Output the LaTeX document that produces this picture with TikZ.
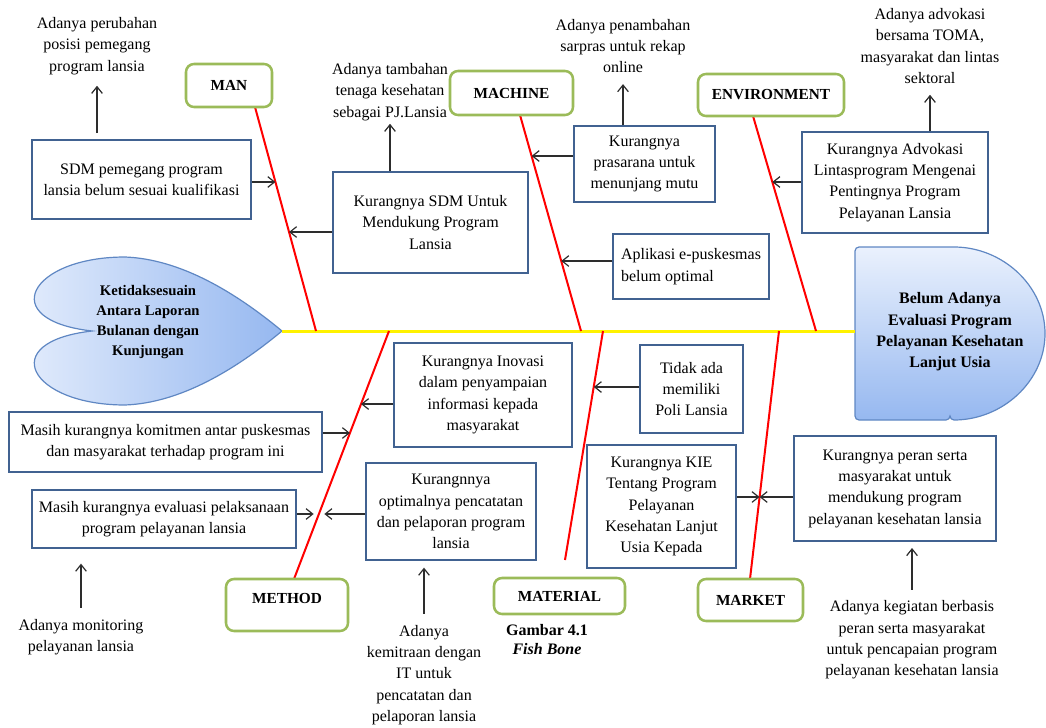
\documentclass[tikz,border=0pt]{standalone}
\usepackage{fontspec}
\setmainfont{Liberation Serif}
\usetikzlibrary{arrows.meta}

\definecolor{boxBlue}{RGB}{65,98,145}
\definecolor{catGreen}{RGB}{155,187,89}
\definecolor{headLine}{RGB}{95,135,195}
\definecolor{headLight}{RGB}{234,241,253}
\definecolor{headDark}{RGB}{150,184,240}
\definecolor{arrowGray}{RGB}{45,45,45}

\tikzset{every picture/.style={line width=0.75pt}}
\tikzset{
  effect/.style={draw=boxBlue, line width=1.5pt, fill=white, align=center, inner sep=0.75pt, font=\fontsize{12}{16}\selectfont},
  category/.style={draw=catGreen, line width=1.9pt, rounded corners=6pt, fill=white, inner sep=0.75pt, font=\fontsize{11.5}{14}\selectfont\bfseries},
  note/.style={align=center, inner sep=8pt, font=\fontsize{12}{16}\selectfont},
  headtext/.style={align=center, inner sep=0.75pt, font=\fontsize{12}{16}\selectfont\bfseries},
  bone/.style={draw=red, line width=1.5pt},
  spine/.style={draw=yellow, line width=2.25pt},
  arr/.style={draw=arrowGray, line width=0.9pt, -{Straight Barb[length=5pt,width=8pt]}},
}

\begin{document}
\begin{tikzpicture}[x=0.75pt,y=0.75pt,yscale=-1,xscale=1]
\useasboundingbox (0,0) rectangle (1046,728);

%Shape: Heart [tail of the fish]
\shadedraw [left color=headLight, right color=headDark, draw=headLine, line width=0.9pt] (282,331) .. controls (235,292) and (180,259) .. (125,257) .. controls (30,257) and (-5,320) .. (92,331) .. controls (-5,342) and (30,405) .. (125,405) .. controls (180,403) and (235,370) .. (282,331) -- cycle ;
%Shape: Half Ellipse [head of the fish]
\shadedraw [top color=headLight, bottom color=headDark, draw=headLine, line width=0.9pt, rounded corners=3pt] (950,420) -- (855,420) -- (855,247) -- (950,247) arc [start angle=-90, end angle=90, x radius=95, y radius=86.5] -- cycle ;

%Straight Lines [spine]
\coordinate (tail) at (282,331);
\coordinate (head) at (855,331);
\draw [spine] (tail) -- (head) ;

%Straight Lines [bones]
\coordinate (manTop) at (255,107);
\coordinate (manEnd) at (316,331);
\coordinate (macTop) at (520,115);
\coordinate (macEnd) at (581,331);
\coordinate (envTop) at (753,116);
\coordinate (envEnd) at (816,331);
\coordinate (metBot) at (294,579);
\coordinate (metEnd) at (389,331);
\coordinate (matBot) at (565,560);
\coordinate (matEnd) at (603,331);
\coordinate (marBot) at (750,579);
\coordinate (marEnd) at (779,331);
\draw [bone] (manTop) -- (manEnd) ;
\draw [bone] (macTop) -- (macEnd) ;
\draw [bone] (envTop) -- (envEnd) ;
\draw [bone] (metBot) -- (metEnd) ;
\draw [bone] (matBot) -- (matEnd) ;
\draw [bone] (marBot) -- (marEnd) ;

%Shape: Rounded Rect [categories]
\draw (229,85.5) node [category, minimum width=64.5pt, minimum height=32.25pt] (man) {MAN};
\draw (511.5,93) node [category, minimum width=92.25pt, minimum height=33pt] (machine) {MACHINE};
\draw (771,95) node [category, minimum width=109.5pt, minimum height=31.5pt] (environment) {ENVIRONMENT};
\draw (287,605) node [category, minimum width=91.5pt, minimum height=39pt, text depth=10pt] (method) {METHOD};
\draw (559.5,596) node [category, minimum width=98.25pt, minimum height=27pt] (material) {MATERIAL};
\draw (750.5,600) node [category, minimum width=78.75pt, minimum height=31.5pt] (market) {MARKET};

%Shape: Rectangle [causes]
\draw (141.5,179.5) node [effect, minimum width=164.25pt, minimum height=59.25pt] (sdm) {SDM pemegang program\\lansia belum sesuai kualifikasi};
\draw (430.5,222.5) node [effect, minimum width=146.25pt, minimum height=75.75pt] (sdmKurang) {Kurangnya SDM Untuk\\Mendukung Program\\Lansia};
\draw (644.5,164) node [effect, minimum width=105.75pt, minimum height=57pt] (prasarana) {Kurangnya\\prasarana untuk\\menunjang mutu};
\draw (691,266.5) node [effect, align=left, minimum width=117pt, minimum height=48.75pt] (aplikasi) {Aplikasi e-puskesmas\\belum optimal};
\draw (895,182.5) node [effect, minimum width=139.5pt, minimum height=75.75pt] (advokasi) {Kurangnya Advokasi\\Lintasprogram Mengenai\\Pentingnya Program\\Pelayanan Lansia};
\draw (483,395) node [effect, minimum width=133.5pt, minimum height=78pt] (inovasi) {Kurangnya Inovasi\\dalam penyampaian\\informasi kepada\\masyarakat};
\draw (691.5,389) node [effect, minimum width=77.25pt, minimum height=66pt] (poli) {Tidak ada\\memiliki\\Poli Lansia};
\draw (165.5,442) node [effect, minimum width=234.75pt, minimum height=45pt] (komitmen) {Masih kurangnya komitmen antar puskesmas\\dan masyarakat terhadap program ini};
\draw (164,519) node [effect, minimum width=198pt, minimum height=43.5pt] (evaluasi) {Masih kurangnya evaluasi pelaksanaan\\program pelayanan lansia};
\draw (451,511.5) node [effect, minimum width=127.5pt, minimum height=72.75pt] (pencatatan) {Kurangnnya\\optimalnya pencatatan\\dan pelaporan program\\lansia};
\draw (661.5,506.5) node [effect, minimum width=111.75pt, minimum height=92.25pt] (kie) {Kurangnya KIE\\Tentang Program\\Pelayanan\\Kesehatan Lanjut\\Usia Kepada};
\draw (895,488.5) node [effect, minimum width=151.5pt, minimum height=78.75pt] (peran) {Kurangnya peran serta\\masyarakat untuk\\mendukung program\\pelayanan kesehatan lansia};

% Text Node [solutions]
\draw (97,46) node [note] (note1) {Adanya perubahan\\posisi pemegang\\program lansia};
\draw (390,92) node [note, inner sep=2pt] (note2) {Adanya tambahan\\tenaga kesehatan\\sebagai PJ.Lansia};
\draw (623,46) node [note] (note3) {Adanya penambahan\\sarpras untuk rekap\\online};
\draw (930,46) node [note] (note4) {Adanya advokasi\\bersama TOMA,\\masyarakat dan lintas\\sektoral};
\draw (81,637) node [note] (note5) {Adanya monitoring\\pelayanan lansia};
\draw (424,675) node [note] (note6) {Adanya\\kemitraan dengan\\IT untuk\\pencatatan dan\\pelaporan lansia};
\draw (912,640) node [note] (note7) {Adanya kegiatan berbasis\\peran serta masyarakat\\untuk pencapaian program\\pelayanan kesehatan lansia};

% Text Node [heads]
\draw (148,322) node [headtext, font=\fontsize{11}{15}\selectfont\bfseries] (problem) {Ketidaksesuain\\Antara Laporan\\Bulanan dengan\\Kunjungan};
\draw (950,332) node [headtext] (effectHead) {Belum Adanya\\Evaluasi Program\\Pelayanan Kesehatan\\Lanjut Usia};
\draw (547,639.5) node [inner sep=0.75pt, align=center, font=\fontsize{12}{14.25}\selectfont\bfseries] (caption) {Gambar 4.1\\\textit{Fish Bone}};

%Straight Lines [arrows onto the bones]
\coordinate (pMan1) at (275.4,182);
\coordinate (pMan2) at (289,232);
\coordinate (pMac1) at (531.6,156);
\coordinate (pMac2) at (561.2,261);
\coordinate (pEnv1) at (772.3,182);
\coordinate (pMet1) at (361,404);
\coordinate (pMet2) at (350,433);
\coordinate (pMet3) at (319,514);
\coordinate (pMat1) at (593.8,387);
\coordinate (pMar1) at (759.6,497);
\draw [arr] (sdm.east |- pMan1) -- (pMan1) ;
\draw [arr] (sdmKurang.west |- pMan2) -- (pMan2) ;
\draw [arr] (prasarana.west |- pMac1) -- (pMac1) ;
\draw [arr] (aplikasi.west |- pMac2) -- (pMac2) ;
\draw [arr] (advokasi.west |- pEnv1) -- (pEnv1) ;
\draw [arr] (inovasi.west |- pMet1) -- (pMet1) ;
\draw [arr] (komitmen.east |- pMet2) -- (pMet2) ;
\draw [arr, shorten >=4pt] (evaluasi.east |- pMet3) -- (pMet3) ;
\draw [arr, shorten >=4pt] (pencatatan.west |- pMet3) -- (pMet3) ;
\draw [arr] (poli.west |- pMat1) -- (pMat1) ;
\draw [arr] (kie.east |- pMar1) -- (pMar1) ;
\draw [arr] (peran.west |- pMar1) -- (pMar1) ;

%Straight Lines [arrows to the solutions]
\draw [arr, shorten <=4.5pt] (sdm.north -| note1.south) -- (note1.south) ;
\draw [arr] (sdmKurang.north -| note2.south) -- (note2.south) ;
\draw [arr] (prasarana.north -| note3.south) -- (note3.south) ;
\draw [arr] (advokasi.north -| note4.south) -- (note4.south) ;
\draw [arr, shorten >=11pt] (note5.north) -- (evaluasi.south -| note5.north) ;
\draw [arr, shorten >=5pt] (note6.north) -- (pencatatan.south -| note6.north) ;
\draw [arr, shorten >=4.5pt] (note7.north) -- (peran.south -| note7.north) ;

\end{tikzpicture}
\end{document}
